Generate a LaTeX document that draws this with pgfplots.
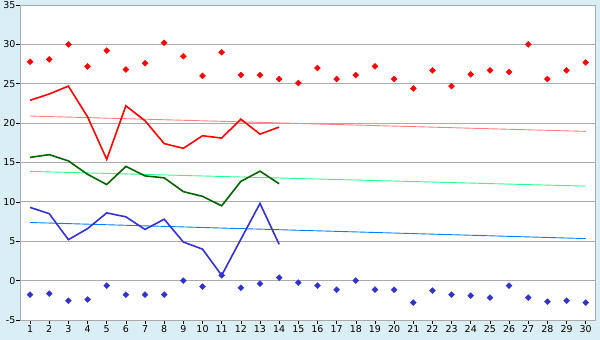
\documentclass[border=0pt]{standalone}
\usepackage{fontspec}
\setmainfont{DejaVu Sans}
\usepackage{pgfplots}
\pgfplotsset{compat=1.18}
\definecolor{bgblue}{RGB}{218,239,245}
\definecolor{gridgray}{RGB}{170,170,170}
\definecolor{redline}{RGB}{255,0,0}
\definecolor{redtrend}{RGB}{255,128,128}
\definecolor{greenline}{RGB}{0,100,0}
\definecolor{greentrend}{RGB}{40,255,140}
\definecolor{blueline}{RGB}{51,51,204}
\definecolor{bluetrend}{RGB}{0,128,255}
\begin{document}
\begin{tikzpicture}
\fill[bgblue] (0,0) rectangle (600bp,340bp);
\begin{axis}[
  at={(20.5bp,20bp)}, anchor=south west,
  scale only axis, width=574.8bp, height=315bp,
  xmin=0.5, xmax=30.5, ymin=-5, ymax=35,
  xtick={1,...,30}, ytick={-5,0,5,10,15,20,25,30,35},
  axis background/.style={fill=white},
  ymajorgrids, grid style={gridgray, line width=0.8bp},
  axis line style={gridgray, line width=0.8bp},
  tick align=outside, major tick length=4bp,
  xtick pos=bottom, ytick pos=left,
  tick style={black, line width=0.6bp},
  tick label style={font=\fontsize{9.5}{10}\selectfont},
  /pgf/number format/assume math mode=true,
  yticklabel style={inner sep=1bp},
  xticklabel style={inner sep=1.5bp},
  clip=false,
]
% trend lines
\addplot[redtrend, line width=0.9bp] coordinates {(1,20.9) (30,18.95)};
\addplot[greentrend, line width=0.9bp] coordinates {(1,13.87) (30,12.0)};
\addplot[bluetrend, line width=0.9bp] coordinates {(1,7.38) (30,5.34)};
% lines
\addplot[redline, line width=1.6bp] coordinates {
(1,22.9) (2,23.7) (3,24.7) (4,20.8) (5,15.4) (6,22.2) (7,20.3) (8,17.4) (9,16.8) (10,18.4) (11,18.1) (12,20.5) (13,18.6) (14,19.5)};
\addplot[greenline, line width=1.6bp] coordinates {
(1,15.65) (2,16.0) (3,15.2) (4,13.5) (5,12.2) (6,14.5) (7,13.3) (8,13.05) (9,11.3) (10,10.7) (11,9.5) (12,12.6) (13,13.9) (14,12.3)};
\addplot[blueline, line width=1.6bp] coordinates {
(1,9.3) (2,8.5) (3,5.2) (4,6.6) (5,8.6) (6,8.1) (7,6.5) (8,7.8) (9,4.9) (10,4.0) (11,0.67) (12,5.25) (13,9.8) (14,4.6)};
% markers
\addplot[only marks, mark=square*, mark size=2.1bp, mark options={rotate=45}, redline] coordinates {
(1,27.8) (2,28.1) (3,30.0) (4,27.2) (5,29.2) (6,26.8) (7,27.6) (8,30.2) (9,28.5) (10,26.0)
(11,29.0) (12,26.1) (13,26.1) (14,25.6) (15,25.1) (16,27.0) (17,25.6) (18,26.1) (19,27.2) (20,25.6)
(21,24.4) (22,26.7) (23,24.7) (24,26.2) (25,26.7) (26,26.5) (27,30.0) (28,25.6) (29,26.7) (30,27.7)};
\addplot[only marks, mark=square*, mark size=2.1bp, mark options={rotate=45}, blueline] coordinates {
(1,-1.78) (2,-1.65) (3,-2.55) (4,-2.4) (5,-0.64) (6,-1.78) (7,-1.78) (8,-1.78) (9,0.0) (10,-0.77)
(11,0.67) (12,-0.9) (13,-0.38) (14,0.38) (15,-0.25) (16,-0.64) (17,-1.15) (18,0.0) (19,-1.15) (20,-1.15)
(21,-2.8) (22,-1.27) (23,-1.78) (24,-1.9) (25,-2.16) (26,-0.64) (27,-2.16) (28,-2.67) (29,-2.55) (30,-2.8)};
\end{axis}
\end{tikzpicture}
\end{document}
